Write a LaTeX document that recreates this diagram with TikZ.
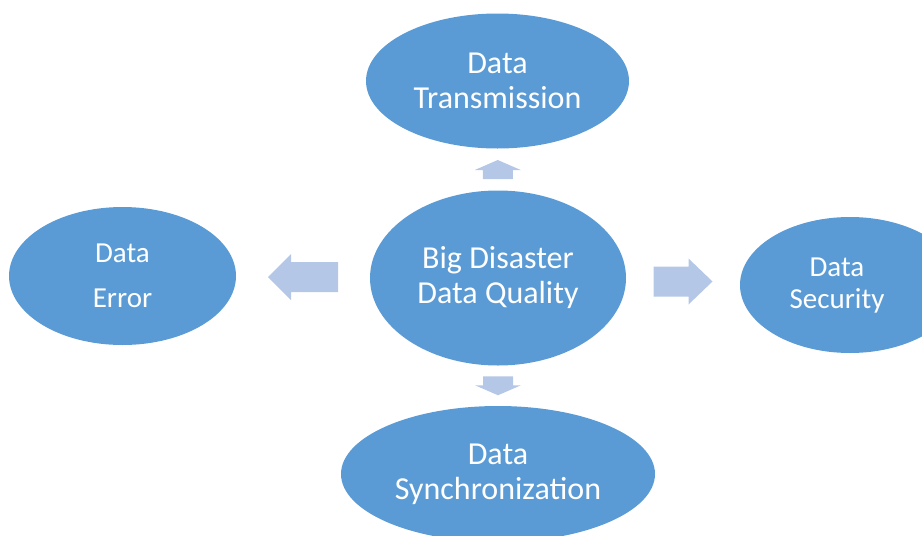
\documentclass[tikz,border=0pt]{standalone}
\usepackage{fontspec}
\setmainfont{Carlito}
\usetikzlibrary{shapes.geometric,calc}
\definecolor{bubbleBlue}{HTML}{5B9BD5}
\definecolor{arrowBlue}{HTML}{B4C7E7}
\tikzset{
  bubble/.style={ellipse, fill=bubbleBlue, inner sep=0pt, text=white, align=center, font=\fontsize{32}{35}\selectfont},
  sidebubble/.style={bubble, font=\fontsize{29}{32}\selectfont},
  fatarrow/.style={fill=arrowBlue}
}
% block arrow halfway between two nodes: from, to, length, head length, angle
\newcommand{\blockarrow}[5]{%
  \begin{scope}[shift={($(#1)!0.5!(#2)$)}, rotate=#5]
    \fill[fatarrow] (#3/2,0) -- (#3/2-#4,23) -- (#3/2-#4,15) -- (-#3/2,15)
      -- (-#3/2,-15) -- (#3/2-#4,-15) -- (#3/2-#4,-23) -- cycle;
  \end{scope}}

\begin{document}
\begin{tikzpicture}[x=1pt, y=-1pt]
  \useasboundingbox (0,0) rectangle (922,536);
  \clip (0,0) rectangle (922,536);

  \node[bubble, minimum width=256pt, minimum height=175pt] (hub) at (498,278) {Big Disaster\\Data Quality};
  \node[bubble, minimum width=263pt, minimum height=135pt] (trans) at (497.5,81) {Data\\Transmission};
  \node[sidebubble, minimum width=227pt, minimum height=138pt] (err) at (122.5,276) {Data\\[13pt]Error};
  \node[sidebubble, minimum width=220pt, minimum height=136pt,
        label={[sidebubble, fill=none, xshift=-13pt, yshift=-1pt]center:Data\\Security}] (sec) at (850,285) {};
  \node[bubble, minimum width=314pt, minimum height=136pt] (sync) at (498,474) {Data\\Synchronization};

  \blockarrow{hub.north}{trans.south}{19}{10}{90}
  \blockarrow{hub.west}{err.east}{70}{23}{180}
  \blockarrow{hub.east}{sec.west}{59}{24}{0}
  \blockarrow{hub.south}{sync.north}{19}{10}{270}
\end{tikzpicture}
\end{document}
